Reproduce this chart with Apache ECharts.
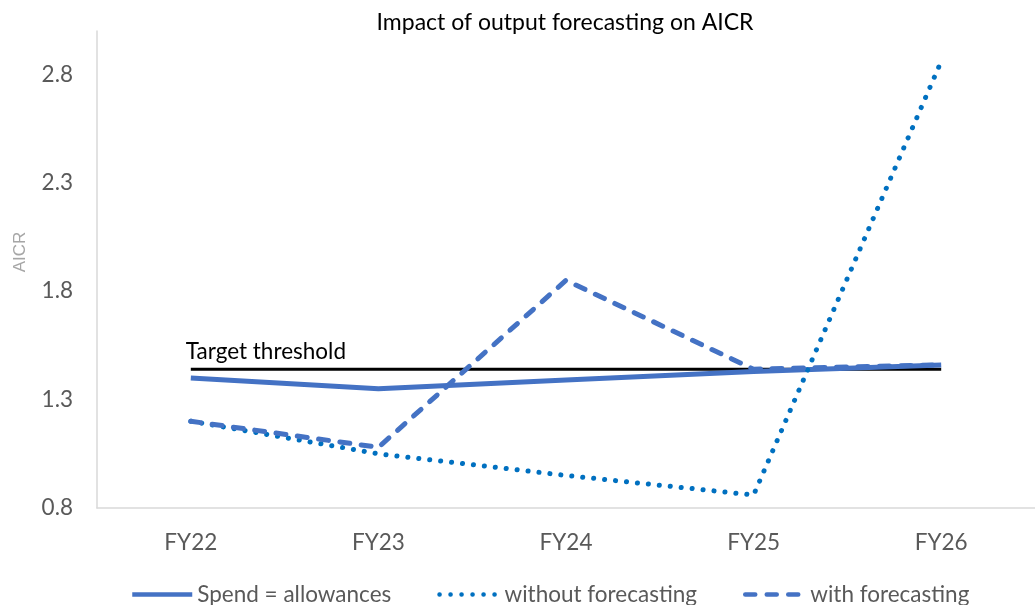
<!DOCTYPE html>
<html>
<head>
<meta charset="utf-8">
<script src="https://cdn.jsdelivr.net/npm/echarts@6/dist/echarts.min.js"></script>
<style>
  html, body { margin: 0; padding: 0; background: #fff; }
  #chart { width: 1035px; height: 605px; }
</style>
</head>
<body>
<div id="chart"></div>
<script>
// Financial years on the x axis
const categories = ['FY22', 'FY23', 'FY24', 'FY25', 'FY26'];

// AICR per year for each scenario
const spendEqualsAllowances = [1.40, 1.35, 1.39, 1.43, 1.46];
const withoutForecasting = [1.20, 1.05, 0.95, 0.86, 2.86];
const withForecasting = [1.20, 1.08, 1.85, 1.44, 1.46];

// Target AICR level
const targetThreshold = 1.44;
const thresholdLabel = 'Target threshold';
const thresholdValues = categories.map(() => targetThreshold);

// Y axis scale
const yMin = 0.8;
const yMax = 3.0;
const yStep = 0.5;

const FONT = 'Lato';
const BLUE = '#4472C4';
const DOT_BLUE = '#0070C0';

const chart = echarts.init(document.getElementById('chart'), null, { renderer: 'canvas' });

chart.setOption({
  animation: false,
  backgroundColor: '#ffffff',
  title: {
    text: 'Impact of output forecasting on AICR',
    left: 560,
    top: 6,
    textAlign: 'center',
    textStyle: { fontFamily: FONT, fontSize: 23, fontWeight: 'normal', color: '#000000' }
  },
  grid: { left: 97, right: -9, top: 31, bottom: 97 },
  legend: {
    data: ['Spend = allowances', 'without forecasting', 'with forecasting'],
    left: 125,
    top: 578,
    itemWidth: 60,
    itemHeight: 14,
    itemGap: 46,
    itemStyle: { opacity: 0 },
    lineStyle: { width: 4.5 },
    textStyle: { fontFamily: FONT, fontSize: 22.5, color: '#595959' }
  },
  graphic: [{
    type: 'text',
    x: 20,
    y: 252,
    rotation: Math.PI / 2,
    style: {
      text: 'AICR',
      font: '17px "Liberation Sans"',
      fill: '#a6a6a6',
      textAlign: 'center',
      textVerticalAlign: 'middle'
    }
  }],
  xAxis: {
    type: 'category',
    data: categories,
    boundaryGap: true,
    axisLine: { lineStyle: { color: '#d9d9d9', width: 1.5 } },
    axisTick: { show: false },
    axisLabel: { fontFamily: FONT, fontSize: 22.5, color: '#595959', margin: 23 },
    splitLine: { show: false }
  },
  yAxis: {
    type: 'value',
    min: yMin,
    max: yMax,
    interval: yStep,
    axisLine: { show: true, lineStyle: { color: '#d9d9d9', width: 1.5 } },
    axisTick: { show: false },
    splitLine: { show: false },
    axisLabel: {
      fontFamily: FONT, fontSize: 22.5, color: '#595959', margin: 24,
      showMaxLabel: false,
      formatter: v => (Math.abs(v - yMax) < 1e-9 ? '' : v.toFixed(1))
    }
  },
  series: [
    {
      name: thresholdLabel,
      type: 'line',
      data: thresholdValues,
      symbol: 'circle',
      symbolSize: 0,
      showSymbol: true,
      silent: true,
      lineStyle: { color: '#000000', width: 3 },
      itemStyle: { color: '#000000' },
      z: 1,
      label: {
        show: true,
        position: 'top',
        align: 'left',
        distance: 6,
        offset: [-5, 0],
        formatter: p => (p.dataIndex === 0 ? thresholdLabel : ''),
        fontFamily: FONT, fontSize: 22.5, color: '#000000'
      }
    },
    {
      name: 'Spend = allowances',
      type: 'line',
      data: spendEqualsAllowances,
      symbol: 'none',
      color: BLUE,
      lineStyle: { color: BLUE, width: 5 },
      z: 2
    },
    {
      name: 'without forecasting',
      type: 'line',
      data: withoutForecasting,
      symbol: 'none',
      color: DOT_BLUE,
      lineStyle: { color: DOT_BLUE, width: 5, type: [0.1, 10.9], cap: 'round', join: 'round' },
      z: 3
    },
    {
      name: 'with forecasting',
      type: 'line',
      data: withForecasting,
      symbol: 'none',
      color: BLUE,
      lineStyle: { color: BLUE, width: 5, type: [10, 11.5], cap: 'round', join: 'round' },
      z: 4
    }
  ]
});
</script>
</body>
</html>
